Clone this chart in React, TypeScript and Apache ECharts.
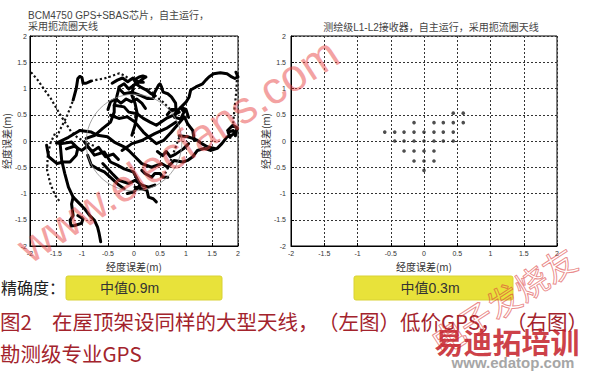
import React, { useEffect, useRef } from "react";
import * as echarts from "echarts";

// ---- texts ----
const tickValues = [-2, -1.5, -1, -0.5, 0, 0.5, 1, 1.5, 2];
const axisTitleX = "经度误差(m)";
const axisTitleY = "经度误差(m)";
const leftTitle = ["BCM4750 GPS+SBAS芯片，自主运行，", "采用扼流圈天线"];
const rightTitle = "测绘级L1-L2接收器，自主运行，采用扼流圈天线";
const accuracyLabel = "精确度：";
const medianLabels = ["中值0.9m", "中值0.3m"];
const captionLine1 = ["图2", "在屋顶架设同样的大型天线，", "（左图）低价GPS，", "（右图）"];
const captionLine2 = "勘测级专业GPS";
const watermarks = ["www.elecfans.com", "电子发烧友", "易迪拓培训", "www.edatop.com"];

// ---- left chart: reference circle [cx, cy, r] (m) ----
const leftCircle = [0, -0.03, 0.92];

// ---- left chart: sparse (dotted) track sections, [east, north] in m ----
const leftDottedTracks: number[][][] = [
  [[-1.98, 1.31], [-1.85, 1.16], [-1.74, 1.0], [-1.6, 0.81], [-1.49, 0.62], [-1.4, 0.47], [-1.3, 0.32], [-1.21, 0.18], [-1.09, 0.07], [-0.94, -0.02], [-0.75, -0.1]],
  [[-1.49, 0.07], [-1.4, 0.26], [-1.3, 0.45], [-1.23, 0.62], [-1.17, 0.78]],
  [[-0.83, 1.14], [-0.7, 1.17], [-0.57, 1.19], [-0.45, 1.23], [-0.28, 1.29], [-0.19, 1.25], [-0.13, 1.21], [-0.05, 1.16]],
  [[-1.52, 0.14], [-1.61, -0.05], [-1.66, -0.3], [-1.67, -0.56], [-1.61, -0.81], [-1.52, -1.03], [-1.42, -1.16]],
  [[0.28, 1.0], [0.4, 0.87], [0.56, 0.74], [0.68, 0.62], [0.81, 0.52]],
  [[1.98, 1.25], [1.97, 0.97], [1.94, 0.68], [1.91, 0.39], [1.9, 0.15]],
  [[0.87, 0.07], [0.77, -0.2], [0.66, -0.5], [0.6, -0.62]],
];

// ---- left chart: dense (solid) track sections, [east, north] in m ----
const leftSolidTracks: number[][][] = [
  [[-1.17, 0.78], [-1.11, 1.0], [-1.08, 1.19], [-1.04, 1.23], [-1.0, 1.21], [-0.98, 1.1], [-0.92, 1.1], [-0.83, 1.14]],
  [[-0.29, 1.03], [-0.19, 1.09], [-0.1, 0.99], [-0.01, 1.06], [0.09, 1.12], [0.18, 1.19], [0.23, 1.22], [0.17, 1.24], [0.1, 1.22], [0.03, 1.18], [0.09, 1.12], [0.18, 1.12]],
  [[-0.29, 1.0], [-0.19, 0.9], [-0.04, 0.93], [0.12, 0.87], [0.25, 0.81], [0.37, 0.81], [0.4, 0.93], [0.47, 1.06], [0.5, 1.09], [0.53, 1.03], [0.56, 0.93], [0.65, 0.9], [0.72, 0.84], [0.8, 0.72], [0.81, 0.55]],
  [[0.81, 0.55], [0.91, 0.65], [1.0, 0.74], [1.06, 0.84], [1.09, 0.97], [1.19, 1.03], [1.32, 1.09], [1.38, 1.16], [1.44, 1.22], [1.53, 1.28], [1.66, 1.3], [1.79, 1.28], [1.88, 1.22], [1.94, 1.19], [2.0, 1.22], [1.96, 1.31]],
  [[-0.38, 0.68], [-0.19, 0.65], [-0.1, 0.55], [0.06, 0.52], [0.18, 0.43], [0.31, 0.36], [0.43, 0.3], [0.62, 0.43], [0.75, 0.49], [0.87, 0.55]],
  [[-0.45, 0.49], [-0.29, 0.43], [-0.13, 0.46], [0.02, 0.36], [0.18, 0.17], [0.31, 0.05], [0.43, -0.05], [0.57, 0.01], [0.72, 0.17], [0.83, 0.3], [0.97, 0.46], [1.03, 0.33], [1.13, 0.2], [1.16, 0.01]],
  [[-0.92, 0.05], [-0.75, 0.11], [-0.6, 0.24], [-0.45, 0.36], [-0.38, 0.55], [-0.38, 0.68], [-0.33, 0.85], [-0.29, 1.0]],
  [[-1.04, 0.2], [-0.82, 0.17], [-0.7, 0.11], [-0.51, 0.08], [-0.38, -0.02], [-0.19, -0.11], [-0.1, -0.18], [0.02, -0.3], [0.15, -0.43], [0.34, -0.5], [0.53, -0.43], [0.65, -0.5], [0.77, -0.37], [0.94, -0.4], [1.03, -0.37], [1.13, -0.3], [1.22, -0.18], [1.35, -0.14], [1.47, -0.18], [1.6, -0.14], [1.69, -0.05], [1.79, 0.08], [1.88, 0.11], [1.94, 0.15], [1.91, 0.2], [1.81, 0.17], [1.85, 0.07]],
  [[0.87, 0.1], [1.03, 0.08], [1.13, 0.05], [1.22, 0.01], [1.32, -0.06], [1.41, -0.11], [1.55, -0.14]],
  [[-0.95, -0.02], [-0.76, -0.27], [-0.57, -0.21], [-0.45, -0.4], [-0.32, -0.46], [-0.19, -0.53], [-0.01, -0.59], [0.12, -0.84], [-0.01, -0.97], [-0.13, -1.0]],
  [[-0.89, -0.27], [-0.82, -0.46], [-0.7, -0.53], [-0.57, -0.59], [-0.42, -0.72], [-0.29, -0.84], [-0.19, -0.91]],
  [[-0.6, -0.43], [-0.42, -0.62], [-0.29, -0.75], [-0.1, -0.81], [0.02, -0.75], [0.15, -0.84], [0.28, -0.88], [0.4, -0.84]],
  [[0.02, -0.88], [0.15, -0.91], [0.25, -0.94], [0.28, -1.07], [0.37, -1.1], [0.43, -1.16]],
  [[0.15, -0.56], [0.21, -0.62], [0.34, -0.69], [0.4, -0.62], [0.5, -0.62], [0.56, -0.69], [0.65, -0.69]],
  [[-0.23, -0.18], [-0.04, -0.05], [0.15, 0.01], [0.4, 0.14], [0.62, 0.24], [0.81, 0.36]],
  [[-1.42, -0.05], [-1.39, -0.37], [-1.33, -0.62], [-1.26, -0.88], [-1.17, -1.07], [-1.08, -1.16], [-0.95, -1.29], [-0.85, -1.42], [-0.76, -1.51], [-0.7, -1.64], [-0.67, -1.76], [-0.64, -1.92]],
  [[-1.17, -1.07], [-1.2, -1.2], [-1.17, -1.42], [-1.23, -1.51], [-1.21, -1.62], [-1.14, -1.61], [-1.01, -1.57], [-0.98, -1.48], [-1.08, -1.42]],
  [[-1.68, -0.08], [-1.64, -0.3], [-1.48, -0.43], [-1.36, -0.4], [-1.23, -0.4], [-1.11, -0.27], [-1.08, -0.14], [-1.2, -0.02], [-1.39, -0.05], [-1.49, -0.04], [-1.26, 0.07], [-1.04, 0.2]],
  [[-0.01, 1.06], [-0.04, 0.87], [0.02, 0.72], [0.06, 0.53], [0.02, 0.3], [-0.04, 0.11]],
  [[-0.42, 1.1], [-0.32, 1.16], [-0.22, 1.2], [-0.12, 1.13], [-0.02, 1.2], [0.05, 1.08], [0.14, 1.02], [0.24, 0.97], [0.33, 0.9], [0.4, 0.86]],
  [[0.64, 0.5], [0.72, 0.6], [0.82, 0.6], [0.78, 0.45], [0.9, 0.42], [0.96, 0.55], [0.9, 0.64], [1.0, 0.6], [1.05, 0.45]],
  [[-0.5, 0.6], [-0.45, 0.75], [-0.35, 0.8], [-0.25, 0.72], [-0.15, 0.8], [-0.05, 0.75], [0.05, 0.8], [0.15, 0.72], [0.22, 0.62]],
  [[-1.3, -0.15], [-1.15, -0.1], [-1.0, -0.18], [-0.9, -0.1], [-0.8, -0.2], [-0.68, -0.12], [-0.55, -0.3], [-0.4, -0.25], [-0.3, -0.35]],
  [[1.8, 0.2], [1.9, 0.3], [1.98, 0.25], [1.95, 0.1]],
  [[0.45, -0.2], [0.55, -0.28], [0.62, -0.2], [0.7, -0.3], [0.8, -0.25], [0.95, -0.15], [1.05, -0.05]],
];

// ---- right chart: position fixes, [east, north] in m ----
const rightPoints: number[][] = [
  [0.44, 0.53], [0.59, 0.53],
  [-0.15, 0.35], [0.15, 0.35], [0.29, 0.35], [0.44, 0.35], [0.59, 0.35],
  [-0.59, 0.17], [-0.44, 0.17], [-0.3, 0.17], [-0.15, 0.17], [0, 0.17], [0.15, 0.17], [0.29, 0.17], [0.44, 0.17],
  [-0.44, 0], [-0.3, 0], [-0.15, 0], [0, 0], [0.15, 0], [0.29, 0], [0.44, 0],
  [-0.3, -0.19], [-0.15, -0.19], [0, -0.19], [0.15, -0.19],
  [-0.15, -0.38], [0, -0.38], [0.15, -0.38],
  [0, -0.56],
];

const CJK = "'Noto Sans CJK SC', sans-serif";
const LAT = "'Liberation Sans', 'Noto Sans CJK SC', sans-serif";

function txt(text: string, x: number, y: number, font: string, fill: string, align = "left", extra: any = {}) {
  return {
    type: "text",
    x,
    y,
    z: 50,
    silent: true,
    ...extra,
    style: {
      text,
      x: 0,
      y: 0,
      font,
      fill,
      align,
      verticalAlign: "middle",
      textAlign: align,
      textVerticalAlign: "middle",
      ...(extra.style || {}),
    },
  };
}

function makeX(gridIndex: number) {
  return {
    gridIndex,
    type: "value",
    min: tickValues[0],
    max: tickValues[tickValues.length - 1],
    interval: tickValues[1] - tickValues[0],
    axisLine: { show: true, onZero: false, lineStyle: { color: "#000", width: 1 } },
    axisTick: { show: true, inside: true, length: 3, lineStyle: { color: "#000" } },
    axisLabel: { fontSize: 7, color: "#333", margin: 4, fontFamily: LAT },
    splitLine: { show: true, lineStyle: { color: "#333", type: [2, 2], width: 1 } },
    name: axisTitleX,
    nameLocation: "middle",
    nameGap: 13,
    nameTextStyle: { fontSize: 10, color: "#333", fontFamily: CJK },
  };
}

function makeY(gridIndex: number, gap: number) {
  return {
    gridIndex,
    type: "value",
    min: tickValues[0],
    max: tickValues[tickValues.length - 1],
    interval: tickValues[1] - tickValues[0],
    axisLine: { show: true, onZero: false, lineStyle: { color: "#000", width: 1 } },
    axisTick: { show: true, inside: true, length: 3, lineStyle: { color: "#000" } },
    axisLabel: { fontSize: 7, color: "#333", margin: gridIndex === 0 ? 3 : 5, fontFamily: LAT },
    splitLine: { show: true, lineStyle: { color: "#333", type: [2, 2], width: 1 } },
    name: axisTitleY,
    nameLocation: "middle",
    nameGap: gap,
    nameRotate: 90,
    nameTextStyle: { fontSize: 10, color: "#333", fontFamily: CJK },
  };
}

export default function App() {
  const ref = useRef<HTMLDivElement>(null);

  useEffect(() => {
    if (!ref.current) return;
    const chart = echarts.init(ref.current, undefined, { renderer: "svg" });

    const dotted = leftDottedTracks.map((t) => ({
      type: "line",
      xAxisIndex: 0,
      yAxisIndex: 0,
      data: t,
      symbol: "none",
      showSymbol: false,
      silent: true,
      z: 3,
      lineStyle: { color: "#111", width: 2.2, type: [2.2, 2.4] },
    }));
    const solid = leftSolidTracks.map((t) => ({
      type: "line",
      xAxisIndex: 0,
      yAxisIndex: 0,
      data: t,
      symbol: "none",
      showSymbol: false,
      silent: true,
      z: 4,
      lineStyle: { color: "#000", width: 3, join: "round", cap: "round" },
    }));

    const capFont = `20.5px ${CJK}`;
    const capColor = "#a3232c";

    const option: any = {
      animation: false,
      backgroundColor: "#fff",
      grid: [
        { left: 26, top: 36, width: 212, height: 210, show: true, borderColor: "#000", borderWidth: 1, backgroundColor: "#fff" },
        { left: 291, top: 36, width: 266, height: 210, show: true, borderColor: "#000", borderWidth: 1, backgroundColor: "#fff" },
      ],
      xAxis: [makeX(0), makeX(1)],
      yAxis: [makeY(0, 15), makeY(1, 19)],
      series: [
        {
          type: "custom",
          xAxisIndex: 0,
          yAxisIndex: 0,
          data: [leftCircle],
          silent: true,
          z: 5,
          renderItem: (params: any, api: any) => {
            const c = api.coord([api.value(0), api.value(1)]);
            const s = api.size([api.value(2), api.value(2)]);
            return {
              type: "ellipse",
              shape: { cx: c[0], cy: c[1], rx: s[0], ry: s[1] },
              style: { fill: "none", stroke: "#8c8c8c", lineWidth: 0.8 },
            };
          },
        },
        ...dotted,
        ...solid,
        {
          type: "scatter",
          xAxisIndex: 1,
          yAxisIndex: 1,
          data: rightPoints,
          symbolSize: 3.6,
          itemStyle: { color: "#222" },
          silent: true,
        },
      ],
      graphic: [
        txt(leftTitle[0], 28, 15, `10px ${LAT}`, "#444"),
        txt(leftTitle[1], 28, 26, `10px ${LAT}`, "#444"),
        txt(rightTitle, 431, 27, `10px ${LAT}`, "#444", "center"),
        txt(accuracyLabel, 1, 287, `16px ${CJK}`, "#222"),
        {
          type: "rect",
          z: 40,
          silent: true,
          shape: { x: 66, y: 276, width: 156, height: 24, r: 2 },
          style: { fill: "#e8e23a", stroke: "#d9d234", lineWidth: 1 },
        },
        {
          type: "rect",
          z: 40,
          silent: true,
          shape: { x: 354, y: 276, width: 159, height: 24, r: 2 },
          style: { fill: "#e8e23a", stroke: "#d9d234", lineWidth: 1 },
        },
        txt(medianLabels[0], 100, 288, `14px ${LAT}`, "#333"),
        txt(medianLabels[1], 430, 288, `14px ${LAT}`, "#333", "center"),
        txt(captionLine1[0], 0, 321, capFont, capColor),
        txt(captionLine1[1], 52, 321, capFont, capColor),
        txt(captionLine1[2], 318, 321, capFont, capColor),
        txt(captionLine1[3], 506, 321, capFont, capColor),
        txt(captionLine2, 0, 353, capFont, capColor),
        txt(watermarks[0], 178, 150, `45px ${LAT}`, "rgba(232,70,70,0.5)", "center", { rotation: (33 * Math.PI) / 180, z: 90 }),
        txt(watermarks[1], 503, 300, `33px ${CJK}`, "rgba(255,255,255,0)", "center", {
          rotation: (33 * Math.PI) / 180,
          z: 90,
          style: { stroke: "rgba(220,60,60,0.6)", lineWidth: 1 },
        }),
        txt(watermarks[2], 507, 341, `bold 29px ${CJK}`, "rgba(196,30,40,0.85)", "center", { z: 91 }),
        txt(watermarks[3], 513, 362, `bold 15px ${LAT}`, "#a6a6a6", "center", { z: 91 }),
      ],
    };

    chart.setOption(option);
    return () => chart.dispose();
  }, []);

  return (
    <div
      ref={ref}
      style={{ position: "absolute", left: 0, top: 0, width: 593, height: 372, background: "#fff" }}
    />
  );
}
